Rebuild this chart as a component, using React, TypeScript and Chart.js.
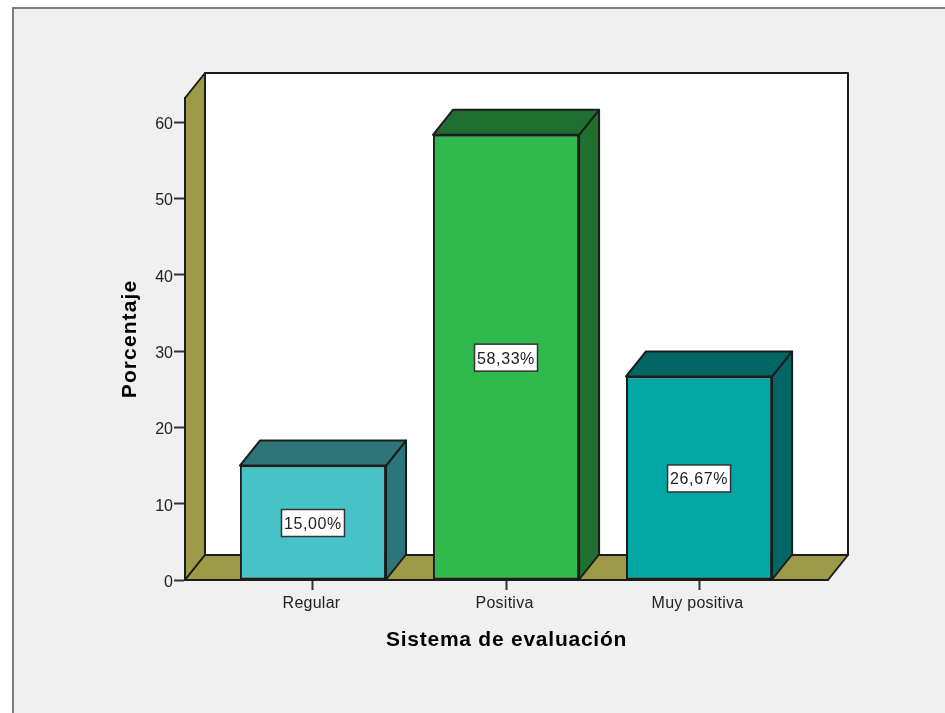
import React, { useEffect, useRef } from "react";
import { Chart, registerables } from "chart.js";

Chart.register(...registerables);

const categories = ["Regular", "Positiva", "Muy positiva"];
const percentages = [15.0, 58.33, 26.67];
const valueLabels = ["15,00%", "58,33%", "26,67%"];
const faceColors = ["#47c2c7", "#30b94c", "#00a7a5"];
const shadeColors = ["#2e7579", "#1e6f30", "#006765"];
const yTickValues = [0, 10, 20, 30, 40, 50, 60];

const DEPTH_X = 20;
const DEPTH_Y = -25;
const INK = "#1c1c1c";
const WALL = "#9c9a47";
const PANEL = "#f0f0f0";
const FONT = "'Liberation Sans', Arial, sans-serif";

function poly(ctx: CanvasRenderingContext2D, pts: number[][], fill: string, width = 2) {
  ctx.beginPath();
  pts.forEach((p, i) => (i ? ctx.lineTo(p[0], p[1]) : ctx.moveTo(p[0], p[1])));
  ctx.closePath();
  ctx.fillStyle = fill;
  ctx.fill();
  ctx.lineJoin = "round";
  ctx.lineWidth = width;
  ctx.strokeStyle = INK;
  ctx.stroke();
}

function tweak(scale: any, method: string, spacing: number, dx: number, dy: number) {
  const original = scale[method];
  scale[method] = function (...args: any[]) {
    const ctx = scale.ctx;
    ctx.save();
    ctx.letterSpacing = `${spacing}px`;
    ctx.translate(dx, dy);
    original.apply(scale, args);
    ctx.restore();
  };
}

const box3d = {
  id: "box3d",
  afterInit(chart: any) {
    chart.$tweaked = false;
  },
  beforeDraw(chart: any) {
    const { ctx, chartArea: a, width, height } = chart;
    if (!chart.$tweaked) {
      chart.$tweaked = true;
      tweak(chart.scales.x, "drawTitle", 0.76, 0, 0);
      tweak(chart.scales.y, "drawTitle", 1.1, 0, 0);
      tweak(chart.scales.x, "drawLabels", 0.25, -1.5, 0);
      tweak(chart.scales.y, "drawLabels", 0, 0, 2.5);
    }
    ctx.save();
    ctx.fillStyle = "#ffffff";
    ctx.fillRect(0, 0, width, height);
    ctx.fillStyle = PANEL;
    ctx.fillRect(13, 8, width - 13, height - 8);
    ctx.strokeStyle = "#7f7f7f";
    ctx.lineWidth = 2;
    ctx.beginPath();
    ctx.moveTo(13, height);
    ctx.lineTo(13, 8);
    ctx.lineTo(width, 8);
    ctx.stroke();
    const bx = DEPTH_X;
    const by = DEPTH_Y;
    poly(ctx, [[a.left + bx, a.top + by], [a.right + bx, a.top + by], [a.right + bx, a.bottom + by], [a.left + bx, a.bottom + by]], "#ffffff");
    poly(ctx, [[a.left, a.top], [a.left + bx, a.top + by], [a.left + bx, a.bottom + by], [a.left, a.bottom]], WALL);
    poly(ctx, [[a.left, a.bottom], [a.left + bx, a.bottom + by], [a.right + bx, a.bottom + by], [a.right, a.bottom]], WALL);
    ctx.restore();
  },
  beforeDatasetsDraw(chart: any) {
    const { ctx } = chart;
    ctx.save();
    chart.getDatasetMeta(0).data.forEach((bar: any, i: number) => {
      const l = bar.x - bar.width / 2;
      const r = bar.x + bar.width / 2;
      const t = bar.y;
      const b = bar.base;
      poly(ctx, [[r, t], [r + DEPTH_X, t + DEPTH_Y], [r + DEPTH_X, b + DEPTH_Y], [r, b]], shadeColors[i]);
      poly(ctx, [[l, t], [l + DEPTH_X, t + DEPTH_Y], [r + DEPTH_X, t + DEPTH_Y], [r, t]], shadeColors[i]);
    });
    ctx.restore();
  },
  afterDatasetsDraw(chart: any) {
    const { ctx } = chart;
    ctx.save();
    ctx.font = `16px ${FONT}`;
    ctx.letterSpacing = "0.6px";
    ctx.textAlign = "center";
    ctx.textBaseline = "middle";
    chart.getDatasetMeta(0).data.forEach((bar: any, i: number) => {
      const cy = (bar.y + bar.base) / 2 + 0.5;
      const w = 63;
      const h = 27;
      ctx.fillStyle = "#ffffff";
      ctx.fillRect(bar.x - w / 2, cy - h / 2, w, h);
      ctx.strokeStyle = "#333333";
      ctx.lineWidth = 1.5;
      ctx.strokeRect(bar.x - w / 2, cy - h / 2, w, h);
      ctx.fillStyle = "#222222";
      ctx.fillText(valueLabels[i], bar.x, cy + 1.5);
    });
    ctx.restore();
  },
};

export default function App() {
  const ref = useRef<HTMLCanvasElement>(null);
  useEffect(() => {
    const chart = new Chart(ref.current!, {
      type: "bar",
      plugins: [box3d],
      data: {
        datasets: [
          {
            data: percentages.map((y, x) => ({ x, y })),
            backgroundColor: faceColors,
            borderColor: INK,
            borderWidth: 2,
            borderSkipped: false,
            barPercentage: 0.757,
            categoryPercentage: 1,
          },
        ],
      },
      options: {
        animation: false,
        responsive: false,
        events: [],
        layout: { padding: { left: 118, top: 98, right: 117, bottom: 60 } },
        plugins: { legend: { display: false }, title: { display: false }, tooltip: { enabled: false } },
        scales: {
          x: {
            type: "linear",
            min: -0.663,
            max: 2.668,
            offset: false,
            afterFit: (s: any) => {
              s.height = 73;
            },
            afterBuildTicks: (s: any) => {
              s.ticks = categories.map((_, i) => ({ value: i }));
            },
            grid: { display: true, offset: false, drawOnChartArea: false, tickLength: 10, tickWidth: 2, tickColor: "#333333" },
            border: { display: true, color: INK, width: 2 },
            ticks: {
              autoSkip: false,
              maxRotation: 0,
              color: "#222222",
              padding: 4,
              font: { family: FONT, size: 16 },
              callback: (v: any) => categories[v as number],
            },
            title: {
              display: true,
              text: "Sistema de evaluación",
              color: "#000000",
              padding: { top: 4, bottom: 0 },
              font: { family: FONT, size: 21, weight: "bold" },
            },
          },
          y: {
            min: 0,
            max: 63.15,
            afterFit: (s: any) => {
              s.width = 67;
            },
            afterBuildTicks: (s: any) => {
              s.ticks = yTickValues.map((value) => ({ value }));
            },
            grid: { display: true, drawOnChartArea: false, tickLength: 11, tickWidth: 2, tickColor: "#333333" },
            border: { display: true, color: INK, width: 2 },
            ticks: {
              color: "#222222",
              padding: 1,
              font: { family: FONT, size: 16 },
            },
            title: {
              display: true,
              text: "Porcentaje",
              color: "#000000",
              padding: { top: 0, bottom: 0 },
              font: { family: FONT, size: 21, weight: "bold" },
            },
          },
        },
      },
    } as any);
    return () => chart.destroy();
  }, []);
  return (
    <div style={{ position: "fixed", left: 0, top: 0, width: 945, height: 713, overflow: "hidden" }}>
      <canvas ref={ref} width={945} height={713} style={{ display: "block" }} />
    </div>
  );
}
